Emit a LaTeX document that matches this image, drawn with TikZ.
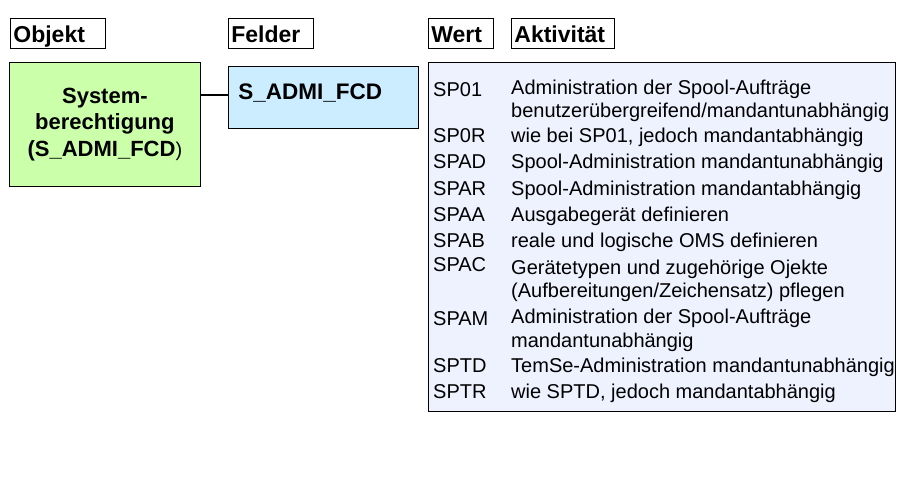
\documentclass[tikz,border=0pt]{standalone}
\usepackage{fontspec}
\setmainfont{Liberation Sans}
\definecolor{objgreen}{RGB}{204,255,170}
\definecolor{fldblue}{RGB}{204,236,255}
\definecolor{wertbg}{RGB}{238,242,255}
\begin{document}
\begin{tikzpicture}[x=1pt,y=-1pt,
  hdr/.style={draw=black, line width=0.8pt, anchor=north west, inner xsep=3pt, inner ysep=2pt,
    text height=21.7pt, text depth=4.3pt, align=left, font=\fontsize{23}{27}\selectfont\bfseries},
  code/.style={anchor=base west, inner sep=0pt, font=\fontsize{20}{24}\selectfont},
  desc/.style={anchor=base west, inner sep=0pt, font=\fontsize{20}{24}\selectfont},
  conn/.style={draw=black, line width=2pt}]
\useasboundingbox[fill=white] (0,0) rectangle (900,480);
% headers
\node[hdr, text width=89pt] (hobj) at (10,18) {Objekt};
\node[hdr, text width=79pt] (hfeld) at (228,18) {Felder};
\node[hdr, text width=59pt] (hwert) at (428,18) {Wert};
\node[hdr, text width=97pt] (hakt) at (511,18) {Aktivität};
% object box
\node[draw=black, line width=0.8pt, fill=objgreen, anchor=north west, minimum width=191pt, minimum height=124pt,
  inner sep=0pt, align=center, font=\fontsize{22}{26.7}\selectfont\bfseries] (obj) at (9,62)
  {System-\\berechtigung\\(S\_ADMI\_FCD{\fontsize{20}{20}\selectfont\mdseries)}};
% field box
\node[draw=black, line width=0.8pt, fill=fldblue, anchor=north west, inner xsep=10pt, inner ysep=0pt,
  text width=170pt, text height=33.3pt, text depth=28.7pt, align=left,
  font=\fontsize{22.5}{27}\selectfont\bfseries] (feld) at (228,66) {S\_ADMI\_FCD};
% connector
\draw[conn] ([yshift=2pt]feld.west) -- ([yshift=2pt]feld.west -| obj.east);
% value box
\node[draw=black, line width=0.8pt, fill=wertbg, anchor=north west, minimum width=467pt, minimum height=349pt,
  inner sep=0pt] (wert) at (428,62) {};
% entries
\node[code] (c1) at (433,96) {SP01};
\node[desc] (d1a) at (511,94.5) {Administration der Spool-Aufträge};
\node[desc] (d1b) at (511,117) {benutzerübergreifend/mandantunabhängig};
\node[code] (c2) at (433,142) {SP0R};
\node[desc] (d2) at (511,142) {wie bei SP01, jedoch mandantabhängig};
\node[code] (c3) at (433,168.5) {SPAD};
\node[desc] (d3) at (511,168.5) {Spool-Administration mandantunabhängig};
\node[code] (c4) at (433,195) {SPAR};
\node[desc] (d4) at (511,195) {Spool-Administration mandantabhängig};
\node[code] (c5) at (433,221) {SPAA};
\node[desc] (d5) at (511,221) {Ausgabegerät definieren};
\node[code] (c6) at (433,247.5) {SPAB};
\node[desc] (d6) at (511,247.5) {reale und logische OMS definieren};
\node[code] (c7) at (433,271.5) {SPAC};
\node[desc] (d7a) at (511,274) {Gerätetypen und zugehörige Ojekte};
\node[desc] (d7b) at (511,297.5) {(Aufbereitungen/Zeichensatz) pflegen};
\node[code] (c8) at (433,325) {SPAM};
\node[desc] (d8a) at (511,323.5) {Administration der Spool-Aufträge};
\node[desc] (d8b) at (511,347) {mandantunabhängig};
\node[code] (c9) at (433,372) {SPTD};
\node[desc] (d9) at (511,372) {TemSe-Administration mandantunabhängig};
\node[code] (c10) at (433,398) {SPTR};
\node[desc] (d10) at (511,398) {wie SPTD, jedoch mandantabhängig};
\end{tikzpicture}
\end{document}
